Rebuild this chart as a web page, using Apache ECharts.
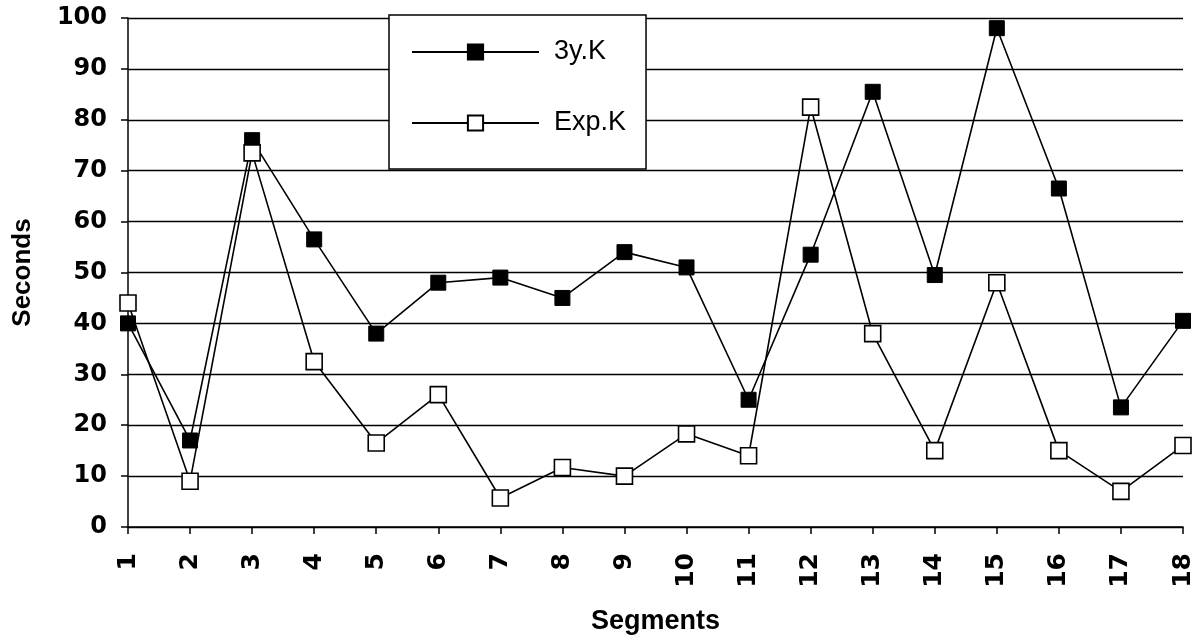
<!DOCTYPE html>
<html>
<head>
<meta charset="utf-8">
<script src="https://cdn.jsdelivr.net/npm/echarts@6/dist/echarts.min.js"></script>
<style>html,body{margin:0;padding:0;background:#fff}#c{width:1192px;height:641px}</style>
</head>
<body>
<div id="c"></div>
<script>
const categories = ['1','2','3','4','5','6','7','8','9','10','11','12','13','14','15','16','17','18'];
const series3yK = [40, 17, 76, 56.5, 38, 48, 49, 45, 54, 51, 25, 53.5, 85.5, 49.5, 98, 66.5, 23.5, 40.5];
const seriesExpK = [44, 9, 73.5, 32.5, 16.5, 26, 5.7, 11.7, 10, 18.3, 14, 82.5, 38, 15, 48, 15, 7, 16];
const yTicks = [0, 10, 20, 30, 40, 50, 60, 70, 80, 90, 100];

const font = 'Liberation Sans, Arial, sans-serif';
const numFont = 'DejaVu Sans, sans-serif';
const chart = echarts.init(document.getElementById('c'));
chart.setOption({
  animation: false,
  backgroundColor: '#fff',
  grid: { left: 128, right: 9, top: 18, bottom: 114, outerBoundsMode: 'none', containLabel: false },
  legend: {
    orient: 'vertical',
    left: 389, top: 15,
    padding: [22, 20, 31, 22],
    itemWidth: 127, itemHeight: 19,
    itemGap: 41,
    backgroundColor: '#fff',
    borderColor: '#000', borderWidth: 1.5,
    textStyle: { fontFamily: font, fontSize: 27, lineHeight: 30, color: '#000', padding: [0, 0, 0, 10] },
    data: ['3y.K', 'Exp.K']
  },
  xAxis: {
    type: 'category',
    data: categories,
    boundaryGap: false,
    name: 'Segments',
    nameLocation: 'middle',
    nameGap: 81,
    nameTextStyle: { fontFamily: font, fontSize: 27, fontWeight: 'bold', color: '#000' },
    axisLine: { lineStyle: { color: '#000', width: 1.5 } },
    axisTick: { length: 7, lineStyle: { color: '#000', width: 1.5 } },
    axisLabel: { rotate: 90, margin: 26, fontFamily: numFont, fontSize: 25, fontWeight: 'bold', color: '#000' },
    splitLine: { show: false }
  },
  yAxis: {
    type: 'value',
    min: yTicks[0], max: yTicks[yTicks.length - 1], interval: 10,
    name: 'Seconds',
    nameLocation: 'middle',
    nameRotate: 90,
    nameGap: 92,
    nameTextStyle: { fontFamily: font, fontSize: 26, fontWeight: 'bold', color: '#000' },
    axisLine: { show: true, lineStyle: { color: '#000', width: 1.5 } },
    axisTick: { show: true, length: 7, lineStyle: { color: '#000', width: 1.5 } },
    axisLabel: { margin: 21, fontFamily: numFont, fontSize: 24, fontWeight: 'bold', color: '#000' },
    splitLine: { show: true, lineStyle: { color: '#000', width: 1.4 } }
  },
  series: [
    {
      name: '3y.K', type: 'line', data: series3yK,
      symbol: 'rect', symbolSize: 15,
      lineStyle: { color: '#000', width: 1.6 },
      itemStyle: { color: '#000', borderColor: '#000', borderWidth: 1 },
      z: 3
    },
    {
      name: 'Exp.K', type: 'line', data: seriesExpK,
      symbol: 'rect', symbolSize: 16,
      lineStyle: { color: '#000', width: 1.6 },
      itemStyle: { color: '#fff', borderColor: '#000', borderWidth: 1.6 },
      z: 4
    }
  ]
});
</script>
</body>
</html>
